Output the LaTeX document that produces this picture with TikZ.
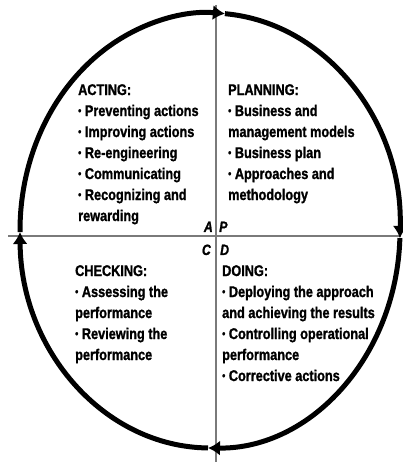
\documentclass[tikz,border=0pt]{standalone}
\usepackage{fontspec}
\setmainfont{Liberation Sans}[FakeStretch=0.82, BoldFeatures={FakeBold=1.2}, BoldItalicFeatures={FakeBold=1.2}]
\usetikzlibrary{arrows.meta,positioning,calc}
\definecolor{Ink}{HTML}{000000}
\definecolor{Axis}{HTML}{7A7A7A}
\newcommand{\bul}{\raisebox{0.2ex}{\fontsize{11}{11}\selectfont•}}
\tikzset{
 cyclearc/.style={line width=5pt, draw=Ink, -{Latex[length=12pt,width=15pt]}},
 axis/.style={draw=Axis, line width=1.2pt},
 stage/.style={anchor=north west, inner sep=0pt, align=left, font=\fontsize{15.5}{21}\selectfont\bfseries},
 letter/.style={inner sep=0pt, font=\fontsize{15}{18}\selectfont\bfseries\itshape}
}

\begin{document}
\begin{tikzpicture}[x=1pt,y=1pt]
\useasboundingbox (0,0) rectangle (403,462);
% axes
\coordinate (vtop) at (216,457);
\coordinate (vbot) at (216,0);
\coordinate (hleft) at (8,226);
\coordinate (hright) at (401,226);
\draw[axis] (vtop) -- (vbot);
\draw[axis] (hleft) -- (hright);
% the cycle, one arrow per quarter
\coordinate (c) at (210,231.5);
\foreach \a/\b in {180.4/85.5, 85.5/-2, -2/-90.6, -90.6/-179.6}
 \draw[cyclearc] ($(c)+(\a:190 and 217.5)$) arc[start angle=\a, end angle=\b, x radius=190, y radius=217.5];
% quadrant letters
\node[letter, anchor=base east] (la) at (213,230) {A};
\node[letter, anchor=base west] (lp) at (219,230) {P};
\node[letter, anchor=base east] (lc) at (211,207) {C};
\node[letter, anchor=base west] (ld) at (220,207) {D};
% stages
\node[stage] (acting) at (78,378) {ACTING:\\
\bul{} Preventing actions\\
\bul{} Improving actions\\
\bul{} Re-engineering\\
\bul{} Communicating\\
\bul{} Recognizing and\\
rewarding};
\node[stage] (planning) at (228,378) {PLANNING:\\
\bul{} Business and\\
management models\\
\bul{} Business plan\\
\bul{} Approaches and\\
methodology};
\node[stage] (checking) at (75,197) {CHECKING:\\
\bul{} Assessing the\\
performance\\
\bul{} Reviewing the\\
performance};
\node[stage] (doing) at (222,197) {DOING:\\
\bul{} Deploying the approach\\
and achieving the results\\
\bul{} Controlling operational\\
performance\\
\bul{} Corrective actions};
\end{tikzpicture}
\end{document}
